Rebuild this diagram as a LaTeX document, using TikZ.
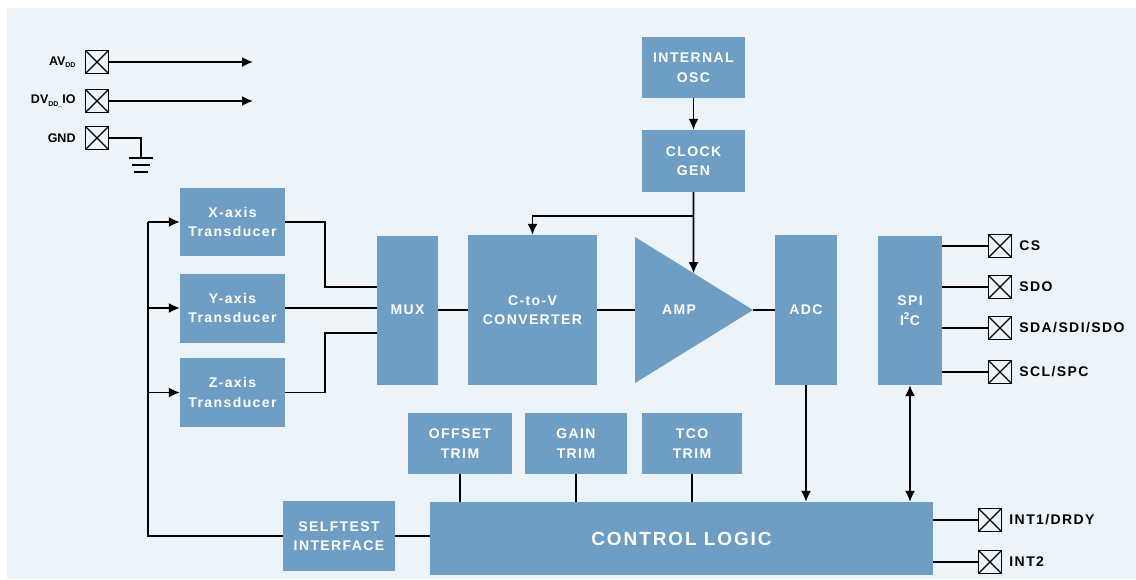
\documentclass[tikz,border=0pt]{standalone}
\usepackage{fontspec}
\usepackage{tikz}
\usetikzlibrary{arrows.meta,positioning,calc}
\newfontfamily\blkfam[LetterSpace=10]{Liberation Sans}
\definecolor{blkblue}{RGB}{110,158,196}
\definecolor{panelbg}{RGB}{237,244,249}
\tikzset{
  blk/.style={rectangle, fill=blkblue, text=white, align=center, inner sep=0pt, font=\blkfam\bfseries\fontsize{14}{19.5}\selectfont},
  bigblk/.style={blk, font=\blkfam\bfseries\fontsize{19}{22}\selectfont},
  pinbox/.style={rectangle, draw=black, line width=1.5pt, minimum size=23pt, inner sep=0pt,
    path picture={\draw[line width=1.2pt] (path picture bounding box.north west) -- (path picture bounding box.south east)
      (path picture bounding box.north east) -- (path picture bounding box.south west);}},
  pinlbl/.style={font=\blkfam\bfseries\fontsize{14}{16}\selectfont, inner sep=0pt},
  pwrlbl/.style={font=\sffamily\bfseries\fontsize{12.5}{14}\selectfont, inner sep=0pt},
  wire/.style={line width=1.7pt, black},
  sig/.style={wire, -{Latex[length=11pt,width=10pt]}},
  bisig/.style={wire, {Latex[length=11pt,width=10pt]}-{Latex[length=11pt,width=10pt]}}
}
\setsansfont{Liberation Sans}
\newcommand{\pwrsub}[1]{{\fontsize{7}{8}\selectfont\raisebox{-2.5pt}{#1}}}

\begin{document}
\begin{tikzpicture}[x=1pt,y=-1pt]
  \useasboundingbox (0,0) rectangle (1136,579);
  \fill[panelbg] (7,8) rectangle (1136,579);

  % supply pins
  \node[pinbox] (avdd) at (97,62) {};
  \node[pinbox] (dvdd) at (97,101) {};
  \node[pinbox] (gnd) at (97,138) {};
  \node[pwrlbl, left=9pt of avdd] (avddl) {AV\pwrsub{DD}};
  \node[pwrlbl, left=9pt of dvdd] (dvddl) {DV\pwrsub{DD\_}IO};
  \node[pwrlbl, left=9pt of gnd] (gndl) {GND};
  \coordinate (avend) at (253,62);
  \coordinate (dvend) at (253,101);
  \draw[sig] (avdd.east) -- (avend);
  \draw[sig] (dvdd.east) -- (dvend);
  \coordinate (gndk) at (141,138);
  \coordinate (gndt) at (141,158);
  \draw[wire] (gnd.east) -- (gndk) -- (gndt);
  \draw[wire] ($(gndt)+(-12,0)$) -- ++(24,0);
  \draw[wire] ($(gndt)+(-9,7)$) -- ++(18,0);
  \draw[wire] ($(gndt)+(-7,14)$) -- ++(14,0);

  % clock
  \node[blk, minimum width=103pt, minimum height=61pt] (osc) at (693.5,67.5) {INTERNAL\\OSC};
  \node[blk, minimum width=103pt, minimum height=62pt] (clk) at (693.5,161) {CLOCK\\GEN};
  \draw[sig] (osc) -- (clk);

  % sensing chain
  \node[blk, minimum width=105pt, minimum height=68pt] (xt) at (232.5,222) {X-axis\\Transducer};
  \node[blk, minimum width=105pt, minimum height=69pt] (yt) at (232.5,308) {Y-axis\\Transducer};
  \node[blk, minimum width=105pt, minimum height=69pt] (zt) at (232.5,392.5) {Z-axis\\Transducer};
  \node[blk, minimum width=61pt, minimum height=149pt] (mux) at (407.5,310) {MUX};
  \node[blk, minimum width=129pt, minimum height=150pt] (cv) at (532.5,310) {C-to-V\\CONVERTER};
  \coordinate (ampT) at (635,237);
  \coordinate (ampB) at (635,383);
  \coordinate (ampR) at (753,310);
  \fill[blkblue] (ampT) -- (ampR) -- (ampB) -- cycle;
  \node[blk, fill=none] (amp) at (679,310) {AMP};
  \node[blk, minimum width=62pt, minimum height=150pt] (adc) at (806,310) {ADC};
  \node[blk, minimum width=64pt, minimum height=149pt] (spi) at (910,310.5) {SPI\\I\textsuperscript{2}C};

  \draw[wire] (xt.east) -- ++(40,0) |- ($(mux.west)+(0,-23)$);
  \draw[wire] (yt.east) -- (yt.east -| mux.west);
  \draw[wire] (zt.east) -- ++(40,0) |- ($(mux.west)+(0,23)$);
  \draw[wire] (mux.east) -- (cv.west);
  \draw[wire] (cv.east) -- ($(ampT)!0.5!(ampB)$);
  \draw[wire] (ampR) -- (adc.west);

  % clock distribution
  \coordinate (clkbr) at ($(clk.south)+(0,24)$);
  \coordinate (ampclk) at (intersection of ampT--ampR and clk.south--clkbr);
  \draw[sig] (clk.south) -- (ampclk);
  \draw[sig] (clkbr) -| (cv.north);

  % serial pins
  \node[pinbox] (cs) at (1000,246) {};
  \node[pinbox] (sdo) at (1000,287) {};
  \node[pinbox] (sda) at (1000,328) {};
  \node[pinbox] (scl) at (1000,372) {};
  \node[pinlbl, right=7pt of cs] (csl) {CS};
  \node[pinlbl, right=7pt of sdo] (sdol) {SDO};
  \node[pinlbl, right=7pt of sda] (sdal) {SDA/SDI/SDO};
  \node[pinlbl, right=7pt of scl] (scll) {SCL/SPC};
  \foreach \p in {cs,sdo,sda,scl}
    \draw[wire] (\p.west -| spi.east) -- (\p.west);

  % trims and control
  \node[blk, minimum width=104pt, minimum height=61pt] (off) at (460,443.5) {OFFSET\\TRIM};
  \node[blk, minimum width=102pt, minimum height=61pt] (gain) at (576,443.5) {GAIN\\TRIM};
  \node[blk, minimum width=100pt, minimum height=61pt] (tco) at (692,443.5) {TCO\\TRIM};
  \node[bigblk, minimum width=503pt, minimum height=73pt] (ctl) at (681.5,538.5) {CONTROL LOGIC};
  \node[blk, minimum width=112pt, minimum height=70pt] (st) at (339,536) {SELFTEST\\INTERFACE};
  \foreach \t in {off,gain,tco}
    \draw[wire] (\t.south) -- (\t.south |- ctl.north);
  \draw[sig] (adc.south) -- (adc.south |- ctl.north);
  \draw[bisig] (spi.south) -- (spi.south |- ctl.north);
  \draw[wire] (st.east) -- (st.east -| ctl.west);

  % selftest bus
  \coordinate (bus) at (148,536);
  \draw[wire] (st.west) -- (bus) -- (xt.west -| bus);
  \foreach \t in {xt,yt,zt}
    \draw[sig] (\t.west -| bus) -- (\t.west);

  % interrupt pins
  \node[pinbox] (int1) at (990,520) {};
  \node[pinbox] (int2) at (990,562) {};
  \node[pinlbl, right=7pt of int1] (int1l) {INT1/DRDY};
  \node[pinlbl, right=7pt of int2] (int2l) {INT2};
  \draw[wire] (int1.west -| ctl.east) -- (int1.west);
  \draw[wire] (int2.west -| ctl.east) -- (int2.west);
\end{tikzpicture}
\end{document}
